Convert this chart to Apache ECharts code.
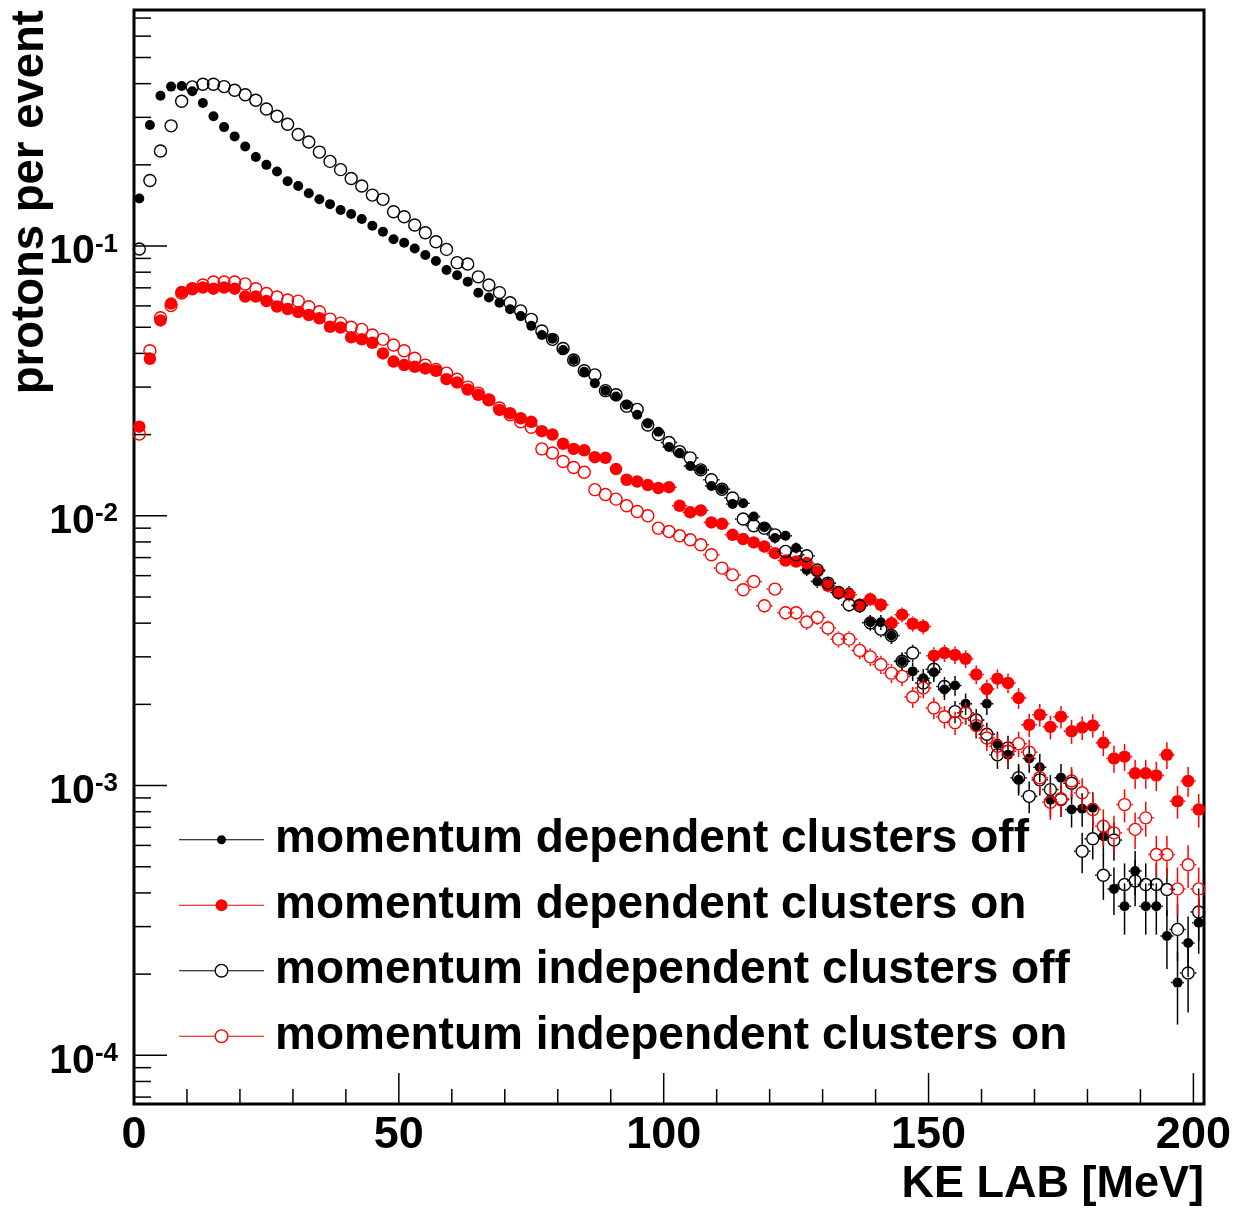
<!DOCTYPE html>
<html><head><meta charset="utf-8">
<script src="https://cdn.jsdelivr.net/npm/echarts@6/dist/echarts.min.js"></script>
<style>html,body{margin:0;padding:0;background:#fff}#c{width:1244px;height:1211px}</style>
</head><body><div id="c"></div>
<script>
// ---- data (KE LAB bin centres in MeV, 2 MeV bins) ----
const binCenters = [1,3,5,7,9,11,13,15,17,19,21,23,25,27,29,31,33,35,37,39,41,43,45,47,49,51,53,55,57,59,61,63,65,67,69,71,73,75,77,79,81,83,85,87,89,91,93,95,97,99,101,103,105,107,109,111,113,115,117,119,121,123,125,127,129,131,133,135,137,139,141,143,145,147,149,151,153,155,157,159,161,163,165,167,169,171,173,175,177,179,181,183,185,187,189,191,193,195,197,199,201];

const seriesNames = ['momentum dependent clusters off','momentum dependent clusters on','momentum independent clusters off','momentum independent clusters on'];

const depOff = [0.150,0.281,0.361,0.390,0.392,0.375,0.339,0.303,0.276,0.255,0.234,0.214,0.200,0.189,0.174,0.167,0.157,0.149,0.143,0.136,0.1315,0.126,0.119,0.113,0.106,0.1028,0.098,0.0926,0.088,0.0815,0.078,0.0738,0.0671,0.0645,0.0616,0.0583,0.055,0.0506,0.0468,0.0453,0.0412,0.0378,0.0342,0.031,0.0291,0.0277,0.0258,0.0237,0.0220,0.0205,0.0180,0.0171,0.0153,0.0148,0.0129,0.01255,0.01107,0.01114,0.00994,0.00908,0.00827,0.00843,0.0076,0.0063,0.00571,0.00563,0.00517,0.0052,0.00464,0.00403,0.00403,0.0036,0.00289,0.00265,0.0025,0.00263,0.00227,0.00235,0.00201,0.00166,0.00201,0.00143,0.0013,0.00105,0.00126,0.00117,0.000887,0.00107,0.000815,0.00082,0.000827,0.000649,0.000414,0.000357,0.000482,0.000357,0.000357,0.000277,0.000186,0.000261,0.00031];

const depOn = [0.0214,0.0382,0.053,0.0612,0.0676,0.0695,0.0702,0.0695,0.0702,0.0695,0.065,0.065,0.0625,0.0597,0.0584,0.0569,0.0555,0.054,0.0502,0.0499,0.0459,0.0451,0.0438,0.040,0.0373,0.0362,0.0357,0.0352,0.0345,0.0321,0.0312,0.0294,0.0281,0.0269,0.0247,0.024,0.023,0.0223,0.0206,0.020,0.0185,0.0177,0.0175,0.0165,0.0164,0.0149,0.0136,0.0134,0.013,0.01268,0.01277,0.0109,0.0103,0.01047,0.00945,0.00934,0.0085,0.0082,0.00797,0.00769,0.00727,0.00683,0.00677,0.00668,0.00622,0.0055,0.0052,0.0051,0.00468,0.00491,0.00468,0.0040,0.0043,0.00398,0.00389,0.00303,0.0031,0.00305,0.00295,0.00258,0.00228,0.00249,0.0024,0.00211,0.00168,0.00183,0.00165,0.0018,0.00159,0.00164,0.00167,0.00144,0.00126,0.00128,0.00111,0.00111,0.00109,0.0013,0.000875,0.00104,0.000815];

const indepOff = [0.0975,0.175,0.225,0.279,0.344,0.389,0.398,0.398,0.390,0.378,0.364,0.347,0.322,0.303,0.283,0.259,0.243,0.223,0.206,0.192,0.178,0.167,0.1545,0.149,0.134,0.1285,0.1197,0.112,0.1037,0.0972,0.0868,0.0858,0.0769,0.0717,0.0672,0.0616,0.0575,0.0535,0.0484,0.0451,0.0417,0.0378,0.0345,0.0333,0.0291,0.0281,0.0255,0.0248,0.0217,0.020,0.0187,0.0173,0.0164,0.0148,0.0136,0.01255,0.01164,0.00973,0.00919,0.0090,0.0085,0.00738,0.00717,0.00711,0.0063,0.00563,0.0052,0.00468,0.00464,0.00401,0.0038,0.0036,0.00289,0.0031,0.0024,0.0027,0.00233,0.00188,0.00186,0.00175,0.00155,0.0013,0.00138,0.00107,0.000912,0.00105,0.000966,0.000887,0.00102,0.000571,0.000635,0.000465,0.000628,0.00043,0.000443,0.00043,0.00043,0.000412,0.000293,0.000202,0.00034];

const indepOn = [0.0201,0.0409,0.0542,0.0602,0.067,0.0695,0.0717,0.0736,0.0736,0.0736,0.0724,0.0695,0.0667,0.0647,0.0631,0.0625,0.0596,0.0571,0.0536,0.0518,0.050,0.0491,0.0468,0.0451,0.043,0.0409,0.0384,0.0362,0.0349,0.0338,0.0321,0.030,0.0285,0.0269,0.0251,0.0237,0.0223,0.0213,0.0177,0.0171,0.0159,0.0151,0.0145,0.0125,0.012,0.01153,0.0109,0.01037,0.010,0.009,0.00875,0.00843,0.00815,0.00781,0.00717,0.0064,0.00604,0.00532,0.00571,0.00464,0.00535,0.00437,0.00437,0.00404,0.0042,0.00384,0.00349,0.00349,0.00317,0.003,0.00281,0.00261,0.00254,0.00213,0.0023,0.00194,0.0018,0.00171,0.00186,0.00167,0.0015,0.0014,0.00134,0.00143,0.00133,0.00107,0.000867,0.000893,0.00104,0.00094,0.000815,0.000707,0.000668,0.00085,0.000688,0.000759,0.000555,0.000555,0.000414,0.000509,0.000414];

// vertical error bars (half-length), for bins from index errStart on (smaller ones hide behind the markers)
const errStart = 50;
const errDepOff = [0.00055,0.000534,0.000505,0.000497,0.000463,0.000457,0.000429,0.00043,0.000407,0.000389,0.000371,0.000375,0.000356,0.000324,0.000308,0.000306,0.000293,0.000294,0.000278,0.000259,0.000259,0.000245,0.000219,0.00021,0.000204,0.000209,0.000194,0.000198,0.000183,0.000166,0.000183,0.000154,0.000147,0.000132,0.000145,0.00014,0.000122,0.000133,0.000116,0.000117,0.000117,0.000104,0.000083,0.000077,0.00009,0.000077,0.000077,0.000068,0.000056,0.000066,0.000072];
const errDepOn = [0.000461,0.000426,0.000414,0.000417,0.000397,0.000394,0.000376,0.000369,0.000364,0.000358,0.000348,0.000337,0.000336,0.000333,0.000322,0.000303,0.000294,0.000291,0.000279,0.000286,0.000279,0.000258,0.000268,0.000257,0.000254,0.000225,0.000227,0.000225,0.000222,0.000207,0.000195,0.000204,0.0002,0.000187,0.000167,0.000175,0.000166,0.000173,0.000163,0.000165,0.000167,0.000155,0.000145,0.000146,0.000136,0.000136,0.000135,0.000147,0.000121,0.000132,0.000116];
const errIndepOff = [0.000558,0.000537,0.000522,0.000497,0.000476,0.000457,0.00044,0.000402,0.000391,0.000387,0.000376,0.00035,0.000345,0.000344,0.000324,0.000306,0.000294,0.000279,0.000278,0.000258,0.000251,0.000245,0.000219,0.000227,0.0002,0.000212,0.000197,0.000177,0.000176,0.000171,0.000161,0.000147,0.000151,0.000133,0.000123,0.000132,0.000127,0.000122,0.00013,0.0000975,0.000103,0.000088,0.000102,0.0000846,0.0000859,0.0000846,0.0000846,0.0000828,0.0000698,0.000058,0.0000752];
const errIndepOn = [0.000382,0.000375,0.000368,0.000361,0.000345,0.000326,0.000317,0.000298,0.000308,0.000278,0.000298,0.00027,0.00027,0.000259,0.000264,0.000253,0.000241,0.000241,0.00023,0.000224,0.000216,0.000208,0.000206,0.000188,0.000196,0.00018,0.000173,0.000169,0.000176,0.000167,0.000158,0.000153,0.000149,0.000154,0.000149,0.000133,0.00012,0.000122,0.000132,0.000125,0.000116,0.000109,0.000105,0.000119,0.000107,0.000112,0.0000962,0.0000962,0.0000829,0.0000921,0.0000829];

// axis ticks / labels
const xMajorTicks = [0,50,100,150,200];
const xMinorTicks = [10,20,30,40,60,70,80,90,110,120,130,140,160,170,180,190];
const yMajorTicks = [1e-4,1e-3,1e-2,1e-1];
const yMinorTicks = [7e-5,8e-5,9e-5,2e-4,3e-4,4e-4,5e-4,6e-4,7e-4,8e-4,9e-4,2e-3,3e-3,4e-3,5e-3,6e-3,7e-3,8e-3,9e-3,2e-2,3e-2,4e-2,5e-2,6e-2,7e-2,8e-2,9e-2,2e-1,3e-1,4e-1,5e-1,6e-1,7e-1];
const xTitle = 'KE LAB [MeV]';
const yTitle = 'protons per event';

// ---- chart ----
const FONT = '"Liberation Sans", Arial, Helvetica, sans-serif';
const X_MIN = 0, X_MAX = 202, Y_MIN = 6.6e-5, Y_MAX = 0.75;
const HALF_BIN = 1;

function pts(vals){ return binCenters.map((x,i)=>[x, vals[i]]); }
function errPts(vals, errs){ return errs.map((e,k)=>[binCenters[errStart+k], vals[errStart+k], e]); }

function errRender(color, r){
  return function(params, api){
    const x = api.value(0), y = api.value(1), e = api.value(2);
    const c = api.coord([x, y]);
    const hi = api.coord([x, y + e])[1];
    const lo = api.coord([x, Math.max(y - e, 1e-7)])[1];
    const xl = api.coord([x - HALF_BIN, y])[0];
    const st = {stroke: color, lineWidth: 1.5};
    const ch = [];
    if (c[1] - hi > r) ch.push({type:'line', shape:{x1:c[0], y1:hi, x2:c[0], y2:c[1]-r}, style:st});
    if (lo - c[1] > r) ch.push({type:'line', shape:{x1:c[0], y1:c[1]+r, x2:c[0], y2:lo}, style:st});
    const hx = Math.max(c[0] - xl, r + 1.5);
    ch.push({type:'line', shape:{x1:c[0]-hx, y1:c[1], x2:c[0]-r, y2:c[1]}, style:st});
    ch.push({type:'line', shape:{x1:c[0]+r, y1:c[1], x2:c[0]+hx, y2:c[1]}, style:st});
    return {type:'group', children: ch};
  };
}

function tickRender(params, api){
  const ch = [];
  const st = {stroke:'#000', lineWidth:1.5};
  const x0 = api.coord([X_MIN, Y_MIN])[0];
  const yb = api.coord([X_MIN, Y_MIN])[1];
  yMajorTicks.forEach(v=>{ const y = api.coord([X_MIN, v])[1]; ch.push({type:'line', shape:{x1:x0, y1:y, x2:x0+33, y2:y}, style:st}); });
  yMinorTicks.forEach(v=>{ const y = api.coord([X_MIN, v])[1]; ch.push({type:'line', shape:{x1:x0, y1:y, x2:x0+17, y2:y}, style:st}); });
  xMajorTicks.forEach(v=>{ const x = api.coord([v, Y_MIN])[0]; ch.push({type:'line', shape:{x1:x, y1:yb, x2:x, y2:yb-31}, style:st}); });
  xMinorTicks.forEach(v=>{ const x = api.coord([v, Y_MIN])[0]; ch.push({type:'line', shape:{x1:x, y1:yb, x2:x, y2:yb-15}, style:st}); });
  return {type:'group', children: ch};
}

const iconSmallFilled = 'path://M0,4L85,4L85,5L0,5Z M38,4.5A4.5,4.5 0 1 1 47,4.5A4.5,4.5 0 1 1 38,4.5Z';
const iconBigFilled = 'path://M0,5.5L85,5.5L85,6.5L0,6.5Z M36.5,6A6,6 0 1 1 48.5,6A6,6 0 1 1 36.5,6Z';
const iconOpen = 'path://M0,6.5L35.5,6.5L35.5,7.5L0,7.5Z M49.5,6.5L85,6.5L85,7.5L49.5,7.5Z M35.5,7A7,7 0 1 1 49.5,7A7,7 0 1 1 35.5,7Z M36.9,7A5.6,5.6 0 1 0 48.1,7A5.6,5.6 0 1 0 36.9,7Z';

const chart = echarts.init(document.getElementById('c'), null, {renderer:'canvas'});
chart.setOption({
  animation: false,
  backgroundColor: '#fff',
  grid: {left:134, top:10, right:40, bottom:107, show:true, borderColor:'#000', borderWidth:3, backgroundColor:'transparent'},
  xAxis: {
    type:'value', min:X_MIN, max:X_MAX, interval:50,
    axisLine:{show:false}, axisTick:{show:false}, splitLine:{show:false},
    axisLabel:{margin:9, color:'#000', fontFamily:FONT, fontWeight:'bold', fontSize:45,
      formatter: v => (xMajorTicks.indexOf(v) >= 0 ? String(v) : '')}
  },
  yAxis: {
    type:'log', logBase:10, min:Y_MIN, max:Y_MAX,
    axisLine:{show:false}, axisTick:{show:false}, splitLine:{show:false},
    axisLabel:{margin:16, color:'#000', padding:[12,0,0,0],
      formatter: function(v){
        const l = Math.log10(v), e = Math.round(l);
        if (Math.abs(l - e) > 1e-6) return '';
        return '{b|10}{s|' + e + '}';
      },
      rich:{
        b:{fontFamily:FONT, fontWeight:'bold', fontSize:41, lineHeight:41, color:'#000'},
        s:{fontFamily:FONT, fontWeight:'bold', fontSize:26, lineHeight:26, verticalAlign:'top', color:'#000'}
      }
    }
  },
  legend: {
    orient:'vertical', left:174, top:811.7, itemWidth:85, itemHeight:14, itemGap:19.5,
    selectedMode:false,
    textStyle:{fontFamily:FONT, fontWeight:'bold', fontSize:46, lineHeight:46, color:'#000', padding:[0,0,0,6]},
    data:[
      {name:seriesNames[0], icon:iconSmallFilled, itemStyle:{color:'#000', borderWidth:0, opacity:1}},
      {name:seriesNames[1], icon:iconBigFilled, itemStyle:{color:'#ff0000', borderWidth:0, opacity:1}},
      {name:seriesNames[2], icon:iconOpen, itemStyle:{color:'#000', borderWidth:0, opacity:1}},
      {name:seriesNames[3], icon:iconOpen, itemStyle:{color:'#ff0000', borderWidth:0, opacity:1}}
    ]
  },
  graphic: [
    {type:'text', x:1204, y:1185, style:{text:xTitle, font:'bold 45px '+FONT, fill:'#000', align:'right', verticalAlign:'middle'}},
    {type:'text', x:30, y:10, rotation:Math.PI/2, style:{text:yTitle, font:'bold 45.5px '+FONT, fill:'#000', align:'right', verticalAlign:'middle'}}
  ],
  series: [
    {type:'custom', name:'ticks', silent:true, clip:false, z:5, data:[[X_MIN, 0.01]], renderItem: tickRender},
    {type:'custom', name:'err0', silent:true, clip:true, z:10, data: errPts(depOff, errDepOff), renderItem: errRender('#000', 5)},
    {type:'scatter', name:seriesNames[0], z:11, symbol:'circle', symbolSize:10, data: pts(depOff), itemStyle:{color:'#000', opacity:1}},
    {type:'custom', name:'err1', silent:true, clip:true, z:12, data: errPts(depOn, errDepOn), renderItem: errRender('#ff0000', 6.2)},
    {type:'scatter', name:seriesNames[1], z:13, symbol:'circle', symbolSize:12.5, data: pts(depOn), itemStyle:{color:'#ff0000', opacity:1}},
    {type:'custom', name:'err2', silent:true, clip:true, z:14, data: errPts(indepOff, errIndepOff), renderItem: errRender('#000', 6.7)},
    {type:'scatter', name:seriesNames[2], z:15, symbol:'circle', symbolSize:12, data: pts(indepOff), itemStyle:{color:'rgba(0,0,0,0)', borderColor:'#000', borderWidth:1.4, opacity:1}},
    {type:'custom', name:'err3', silent:true, clip:true, z:16, data: errPts(indepOn, errIndepOn), renderItem: errRender('#ff0000', 6.7)},
    {type:'scatter', name:seriesNames[3], z:17, symbol:'circle', symbolSize:12, data: pts(indepOn), itemStyle:{color:'rgba(0,0,0,0)', borderColor:'#ff0000', borderWidth:1.4, opacity:1}}
  ]
});
</script></body></html>
